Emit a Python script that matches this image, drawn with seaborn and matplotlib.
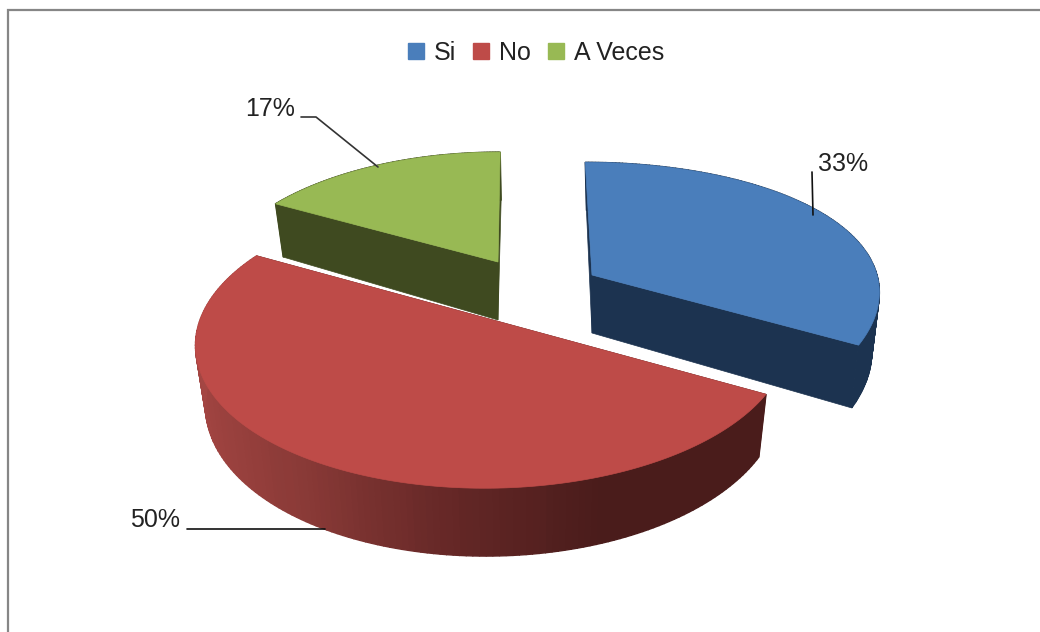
import numpy as np
import matplotlib
matplotlib.use("Agg")
import matplotlib.pyplot as plt
from matplotlib.patches import Patch, Polygon
import seaborn as sns

sns.set_theme(style="white")
plt.rcParams['font.family'] = ['Liberation Sans', 'DejaVu Sans']

categories = ['Si', 'No', 'A Veces']
values = [33, 50, 17]
pct_labels = ['33%', '50%', '17%']

top_colors = ['#4a7ebb', '#be4b48', '#98b954']
side_colors = ['#1c3350', '#4a1c1b', '#3f4a20']

# per-slice projection: centre x/y, radius x/y, perspective y, perspective x, tilt
slice_geom = [
    (592, 275, 285, 133, 0.18, 0.10, 0.06),
    (493, 320, 293, 143, 0.15, 0.15, -0.05),
    (498, 262, 281, 133, 0.21, 0.21, -0.02),
]
DEPTH = 58

red_side = sns.blend_palette(['#4a1c1b', '#662827', '#8a3a37', '#a54643'], 80)


def project(theta, geom, lower=False):
    cx, cy, rx, ry, ky, kx, tilt = geom
    dy = -ry * np.cos(theta) / (1 + ky * np.cos(theta))
    x = cx + rx * np.sin(theta) / (1 + kx * np.cos(theta)) + tilt * dy
    y = cy + dy
    if lower:
        x = cx + (x - cx) * 0.97 + 1
        y = y + DEPTH * (1 - 0.17 * np.cos(theta))
    return np.column_stack([x, y])


def apex(geom, lower=False):
    p = np.array([geom[0], geom[1]], dtype=float)
    if lower:
        p[1] += DEPTH
    return p


def draw_slice(ax, i, start, end):
    geom = slice_geom[i]
    th = np.linspace(start, end, 160)
    up = project(th, geom)
    low = project(th, geom, lower=True)

    # cut faces
    for t in [start, end]:
        a = project(np.array([t]), geom)[0]
        b = project(np.array([t]), geom, lower=True)[0]
        ax.add_patch(Polygon([apex(geom), a, b, apex(geom, True)], fc=side_colors[i], ec=side_colors[i], lw=0.5))

    # outer rim, front part only shows
    for j in range(len(th) - 1):
        if categories[i] == 'No':
            u = np.clip((0.35 - np.sin(th[j])) / 1.35, 0, 1)
            col = red_side[int(u * (len(red_side) - 1))]
        else:
            col = side_colors[i]
        ax.add_patch(Polygon([up[j], up[j + 1], low[j + 1], low[j]], fc=col, ec=col, lw=1.0))

    ax.add_patch(Polygon(np.vstack([apex(geom), up]), fc=top_colors[i], ec=top_colors[i], lw=0.5))


fig = plt.figure(figsize=(10.4, 6.32), dpi=100)
ax = fig.add_axes([0, 0, 1, 1])
ax.set_xlim(0, 1040)
ax.set_ylim(632, 0)
ax.axis('off')

# chart frame, open at right and bottom
ax.plot([8, 8, 1040], [632, 10, 10], color='#868686', lw=1.6, solid_joinstyle='miter')

edges = np.concatenate([[0], np.cumsum(values)]) / np.sum(values) * 2 * np.pi
for i in [2, 0, 1]:
    draw_slice(ax, i, edges[i], edges[i + 1])

# leader lines
ax.plot([812, 813], [172, 215], color='#111111', lw=1.2)
ax.plot([187, 325], [529, 529], color='#111111', lw=1.2)
ax.plot([301, 316, 378], [117, 117, 167], color='#333333', lw=1.2)

label_pos = [(843, 164), (155, 520), (270, 109)]
for txt, (x, y) in zip(pct_labels, label_pos):
    ax.text(x, y, txt, ha='center', va='center', fontsize=18, color='#222222')

handles = [Patch(fc=c, ec=c, label=n) for c, n in zip(top_colors, categories)]
ax.legend(handles=handles, loc='center', bbox_to_anchor=(536 / 1040, 1 - 53 / 632), ncol=3,
          frameon=False, fontsize=18, handlelength=0.62, handleheight=0.62,
          handletextpad=0.4, columnspacing=0.7, labelcolor='#222222')

fig.savefig('out.png', dpi=100)
plt.close(fig)
